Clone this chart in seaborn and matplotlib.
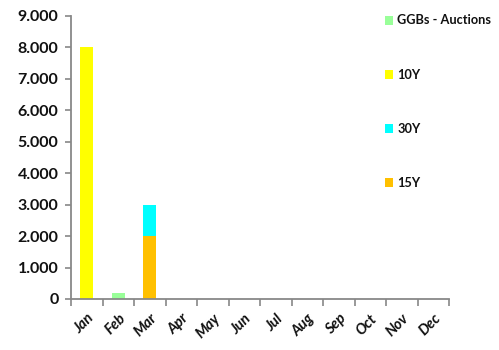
import matplotlib
matplotlib.use("Agg")
import matplotlib.pyplot as plt
import seaborn as sns
import pandas as pd
from matplotlib.ticker import FuncFormatter, FixedLocator
from matplotlib.patches import Patch

sns.set_theme(style="white")
plt.rcParams["font.family"] = ["Lato", "DejaVu Sans"]

months = ["Jan", "Feb", "Mar", "Apr", "May", "Jun",
          "Jul", "Aug", "Sep", "Oct", "Nov", "Dec"]
ggbs_auctions = [0, 200, 0, 0, 0, 0, 0, 0, 0, 0, 0, 0]
y10 = [8000, 0, 0, 0, 0, 0, 0, 0, 0, 0, 0, 0]
y30 = [0, 0, 1000, 0, 0, 0, 0, 0, 0, 0, 0, 0]
y15 = [0, 0, 2000, 0, 0, 0, 0, 0, 0, 0, 0, 0]

series_names = ["GGBs - Auctions", "10Y", "30Y", "15Y"]
colors = {"GGBs - Auctions": "#99FF99", "10Y": "#FFFF00",
          "30Y": "#00FFFF", "15Y": "#FFC000"}

df = pd.DataFrame({"month": months, "GGBs - Auctions": ggbs_auctions,
                   "10Y": y10, "30Y": y30, "15Y": y15})

fig = plt.figure(figsize=(4.99, 3.5), dpi=100)
ax = fig.add_axes([71 / 499, 1 - 299 / 350, 378 / 499, (299 - 16) / 350])

# stack order from the bottom: 15Y, 30Y, 10Y, GGBs
bottom = [0] * len(months)
for name in ["15Y", "30Y", "10Y", "GGBs - Auctions"]:
    sns.barplot(data=df, x="month", y=name, color=colors[name], ax=ax,
                bottom=bottom, width=0.42, saturation=1, linewidth=0)
    bottom = [b + v for b, v in zip(bottom, df[name])]

ax.set_xlim(-0.5, 11.5)
ax.set_ylim(0, 9000)
ax.set_yticks(range(0, 9001, 1000))
ax.yaxis.set_major_formatter(FuncFormatter(lambda v, p: f"{int(v):,}".replace(",", ".")))
ax.set_xlabel("")
ax.set_ylabel("")

for side in ["top", "right"]:
    ax.spines[side].set_visible(False)
for side in ["left", "bottom"]:
    ax.spines[side].set_color("#888888")
    ax.spines[side].set_linewidth(1.3)

ax.tick_params(axis="y", which="major", direction="out", length=4, width=1.2,
               color="#888888", left=True, labelsize=11.5, pad=5)
for lbl in ax.get_yticklabels():
    lbl.set_fontweight("bold")

ax.xaxis.set_minor_locator(FixedLocator([i - 0.5 for i in range(13)]))
ax.tick_params(axis="x", which="minor", direction="out", length=5, width=1.2,
               color="#888888", bottom=True)
ax.tick_params(axis="x", which="major", length=0, pad=9, labelsize=10.5)
for lbl in ax.get_xticklabels():
    lbl.set_rotation(45)
    lbl.set_ha("right")
    lbl.set_rotation_mode("anchor")
    lbl.set_fontweight("bold")
    lbl.set_fontstyle("italic")
    lbl.set_color("#111111")
for lbl in ax.get_yticklabels():
    lbl.set_color("#111111")

handles = [Patch(facecolor=colors[n], edgecolor="none") for n in series_names]
leg = fig.legend(handles, series_names, loc="upper left",
                 bbox_to_anchor=(373 / 499, 1 - 3 / 350), frameon=False,
                 handlelength=0.7, handleheight=0.7, handletextpad=0.3,
                 labelspacing=3.3, prop={"weight": "bold", "size": 9.2})
for t in leg.get_texts():
    t.set_color("#111111")

fig.savefig("out.png", dpi=100)
